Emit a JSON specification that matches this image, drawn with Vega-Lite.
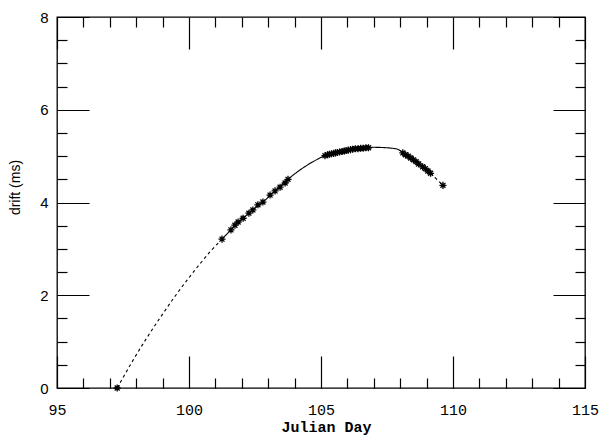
{
  "$schema": "https://vega.github.io/schema/vega-lite/v6.json",
  "width": 528,
  "height": 371,
  "autosize": "none",
  "padding": {"left": 57, "top": 17, "right": 14, "bottom": 47},
  "background": "white",
  "config": {
    "view": {"stroke": "black", "strokeWidth": 1.3},
    "axis": {"domain": false, "grid": false, "tickColor": "black", "labelColor": "black", "titleColor": "black", "tickWidth": 1.2}
  },
  "datasets": {
    "curve": [
      {"x": 97.28, "y": 0, "seg": "a"},
      {"x": 97.8, "y": 0.52, "seg": "a"},
      {"x": 98.4, "y": 1.08, "seg": "a"},
      {"x": 98.9, "y": 1.51, "seg": "a"},
      {"x": 99.5, "y": 2.0, "seg": "a"},
      {"x": 100.0, "y": 2.38, "seg": "a"},
      {"x": 100.42, "y": 2.68, "seg": "a"},
      {"x": 100.8, "y": 2.94, "seg": "a"},
      {"x": 101.25, "y": 3.21, "seg": "a"},
      {"x": 101.25, "y": 3.21, "seg": "b"},
      {"x": 101.59, "y": 3.41, "seg": "b"},
      {"x": 102.05, "y": 3.66, "seg": "b"},
      {"x": 102.42, "y": 3.84, "seg": "b"},
      {"x": 102.8, "y": 4.01, "seg": "b"},
      {"x": 103.26, "y": 4.25, "seg": "b"},
      {"x": 103.75, "y": 4.5, "seg": "b"},
      {"x": 104.2, "y": 4.7, "seg": "b"},
      {"x": 104.7, "y": 4.88, "seg": "b"},
      {"x": 105.15, "y": 5.01, "seg": "b"},
      {"x": 105.55, "y": 5.07, "seg": "b"},
      {"x": 106.03, "y": 5.13, "seg": "b"},
      {"x": 106.5, "y": 5.17, "seg": "b"},
      {"x": 107.0, "y": 5.19, "seg": "b"},
      {"x": 107.5, "y": 5.18, "seg": "b"},
      {"x": 107.9, "y": 5.15, "seg": "b"},
      {"x": 108.1, "y": 5.07, "seg": "b"},
      {"x": 108.4, "y": 4.96, "seg": "b"},
      {"x": 108.7, "y": 4.83, "seg": "b"},
      {"x": 109.15, "y": 4.63, "seg": "b"},
      {"x": 109.15, "y": 4.63, "seg": "c"},
      {"x": 109.62, "y": 4.37, "seg": "c"}
    ],
    "obs": [
      {"x": 97.28, "y": 0},
      {"x": 101.25, "y": 3.21},
      {"x": 101.59, "y": 3.41},
      {"x": 101.74, "y": 3.51},
      {"x": 101.86, "y": 3.58},
      {"x": 102.05, "y": 3.66},
      {"x": 102.27, "y": 3.77},
      {"x": 102.42, "y": 3.84},
      {"x": 102.61, "y": 3.95},
      {"x": 102.8, "y": 4.01},
      {"x": 103.07, "y": 4.16},
      {"x": 103.26, "y": 4.25},
      {"x": 103.45, "y": 4.33},
      {"x": 103.64, "y": 4.42},
      {"x": 103.75, "y": 4.5},
      {"x": 105.15, "y": 5.01},
      {"x": 105.25, "y": 5.03},
      {"x": 105.32, "y": 5.04},
      {"x": 105.4, "y": 5.05},
      {"x": 105.48, "y": 5.06},
      {"x": 105.55, "y": 5.07},
      {"x": 105.62, "y": 5.08},
      {"x": 105.7, "y": 5.09},
      {"x": 105.8, "y": 5.1},
      {"x": 105.88, "y": 5.11},
      {"x": 105.95, "y": 5.12},
      {"x": 106.03, "y": 5.13},
      {"x": 106.12, "y": 5.14},
      {"x": 106.2, "y": 5.15},
      {"x": 106.3, "y": 5.16},
      {"x": 106.4, "y": 5.16},
      {"x": 106.5, "y": 5.17},
      {"x": 106.6, "y": 5.17},
      {"x": 106.7, "y": 5.18},
      {"x": 106.8, "y": 5.18},
      {"x": 108.1, "y": 5.07},
      {"x": 108.2, "y": 5.03},
      {"x": 108.3, "y": 5.0},
      {"x": 108.4, "y": 4.96},
      {"x": 108.5, "y": 4.92},
      {"x": 108.6, "y": 4.88},
      {"x": 108.7, "y": 4.83},
      {"x": 108.85, "y": 4.77},
      {"x": 108.95, "y": 4.73},
      {"x": 109.05, "y": 4.68},
      {"x": 109.15, "y": 4.63},
      {"x": 109.62, "y": 4.37}
    ]
  },
  "layer": [
    {
      "data": {"name": "curve"},
      "mark": {"type": "line", "color": "black", "strokeWidth": 1.1, "interpolate": "monotone"},
      "encoding": {
        "x": {
          "field": "x", "type": "quantitative",
          "scale": {"domain": [95, 115], "nice": false, "zero": false},
          "axis": {
            "orient": "bottom",
            "values": [95,96,97,98,99,100,101,102,103,104,105,106,107,108,109,110,111,112,113,114,115],
            "tickSize": {"condition": {"test": "datum.value % 5 === 0", "value": -32}, "value": -10},
            "labelExpr": "datum.value % 5 === 0 ? format(datum.value, 'd') : ''",
            "labelFont": "Liberation Mono", "labelFontSize": 15, "labelPadding": 46,
            "labelFlush": false, "labelOverlap": false,
            "title": "Julian Day", "titleFont": "Liberation Mono", "titleFontSize": 15, "titleFontWeight": "bold",
            "titleX": 269, "titleY": 43, "titleBaseline": "alphabetic", "titleAlign": "center"
          }
        },
        "y": {
          "field": "y", "type": "quantitative",
          "scale": {"domain": [0, 8], "nice": false, "zero": false},
          "axis": {
            "orient": "left",
            "values": [0,0.5,1,1.5,2,2.5,3,3.5,4,4.5,5,5.5,6,6.5,7,7.5,8],
            "tickSize": {"condition": {"test": "datum.value % 2 === 0", "value": -32}, "value": -10},
            "labelExpr": "datum.value % 2 === 0 ? format(datum.value, 'd') : ''",
            "labelFont": "Liberation Sans", "labelFontSize": 15, "labelPadding": 41,
            "labelFlush": false, "labelOverlap": false,
            "title": "drift (ms)", "titleFont": "Liberation Sans", "titleFontSize": 14, "titleFontWeight": "normal",
            "titleX": -38, "titleY": 170, "titleAngle": -90, "titleBaseline": "alphabetic", "titleAlign": "center"
          }
        },
        "strokeDash": {
          "field": "seg", "type": "nominal",
          "scale": {"domain": ["a", "b", "c"], "range": [[3, 3], [1, 0], [3, 3]]},
          "legend": null
        }
      }
    },
    {
      "data": {"name": "obs"},
      "mark": {
        "type": "point",
        "shape": "M-1,0L1,0M0,-1L0,1M-0.7,-0.7L0.7,0.7M-0.7,0.7L0.7,-0.7",
        "filled": false, "stroke": "black", "strokeWidth": 1.3, "size": 50, "opacity": 1
      },
      "encoding": {
        "x": {
          "field": "x", "type": "quantitative",
          "axis": {
            "orient": "top",
            "values": [95,96,97,98,99,100,101,102,103,104,105,106,107,108,109,110,111,112,113,114,115],
            "tickSize": {"condition": {"test": "datum.value % 5 === 0", "value": -32}, "value": -10},
            "labels": false, "title": null
          }
        },
        "y": {
          "field": "y", "type": "quantitative",
          "axis": {
            "orient": "right",
            "values": [0,0.5,1,1.5,2,2.5,3,3.5,4,4.5,5,5.5,6,6.5,7,7.5,8],
            "tickSize": {"condition": {"test": "datum.value % 2 === 0", "value": -32}, "value": -10},
            "labels": false, "title": null
          }
        }
      }
    }
  ],
  "resolve": {"axis": {"x": "independent", "y": "independent"}}
}
